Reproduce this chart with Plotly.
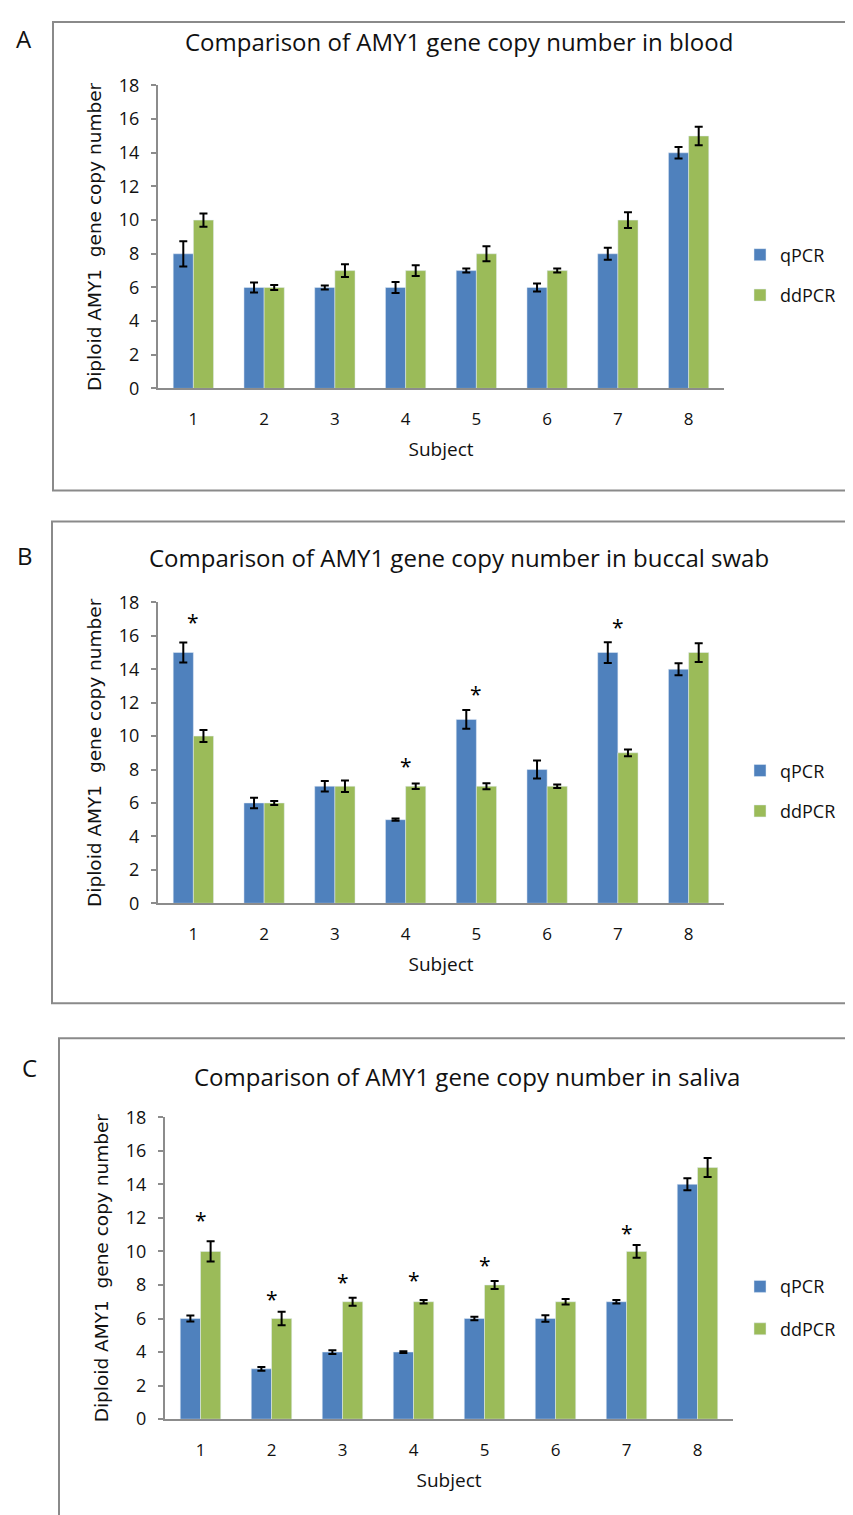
import plotly.graph_objects as go

subjects = ["1", "2", "3", "4", "5", "6", "7", "8"]
series_names = ["qPCR", "ddPCR"]
y_ticks = [0, 2, 4, 6, 8, 10, 12, 14, 16, 18]

# Panel A: blood
blood_qpcr = [8, 6, 6, 6, 7, 6, 8, 14]
blood_qpcr_err = [0.75, 0.3, 0.12, 0.33, 0.12, 0.24, 0.36, 0.34]
blood_ddpcr = [10, 6, 7, 7, 8, 7, 10, 15]
blood_ddpcr_err = [0.4, 0.15, 0.38, 0.32, 0.45, 0.12, 0.47, 0.55]
blood_star_subjects = []
blood_star_y = []

# Panel B: buccal swab
buccal_qpcr = [15, 6, 7, 5, 11, 8, 15, 14]
buccal_qpcr_err = [0.6, 0.32, 0.32, 0.07, 0.56, 0.54, 0.62, 0.36]
buccal_ddpcr = [10, 6, 7, 7, 7, 7, 9, 15]
buccal_ddpcr_err = [0.36, 0.12, 0.34, 0.16, 0.18, 0.1, 0.2, 0.56]
buccal_star_subjects = ["1", "4", "5", "7"]
buccal_star_y = [17.1, 8.5, 12.8, 16.8]

# Panel C: saliva
saliva_qpcr = [6, 3, 4, 4, 6, 6, 7, 14]
saliva_qpcr_err = [0.18, 0.11, 0.11, 0.05, 0.1, 0.2, 0.1, 0.36]
saliva_ddpcr = [10, 6, 7, 7, 8, 7, 10, 15]
saliva_ddpcr_err = [0.6, 0.4, 0.24, 0.11, 0.24, 0.16, 0.38, 0.57]
saliva_star_subjects = ["1", "2", "3", "4", "5", "7"]
saliva_star_y = [12.2, 7.45, 8.45, 8.57, 9.5, 11.4]

titles = [
    "Comparison of AMY1 gene copy number in blood",
    "Comparison of AMY1 gene copy number in buccal swab",
    "Comparison of AMY1 gene copy number in saliva",
]
panel_letters = ["A", "B", "C"]

W, H = 853, 1515
BLUE = "#4F81BD"
GREEN = "#9BBB59"
AXIS_GRAY = "#8C8C8C"
BOX_GRAY = "#8A8A8A"
FONT = "Open Sans"
YFONT = "DejaVu Sans"


def px_x(p):
    # page body margin shifts the figure right by 8 px
    return (p - 8) / W


def px_y(p):
    fy = (p - 20.5) / 0.9844
    fy = max(fy, 1.0)
    return 1 - fy / H


panels = [
    dict(q=blood_qpcr, qe=blood_qpcr_err, d=blood_ddpcr, de=blood_ddpcr_err,
         ss=blood_star_subjects, sy=blood_star_y,
         x0=158, x1=724, ytop=85, ybot=388, box=(53, 7, 880, 490),
         letter=(24, 38), title_y=41, leg_y=236, gap=14),
    dict(q=buccal_qpcr, qe=buccal_qpcr_err, d=buccal_ddpcr, de=buccal_ddpcr_err,
         ss=buccal_star_subjects, sy=buccal_star_y,
         x0=158, x1=724, ytop=602, ybot=903, box=(52, 521, 880, 1003),
         letter=(25, 555), title_y=557, leg_y=752, gap=14),
    dict(q=saliva_qpcr, qe=saliva_qpcr_err, d=saliva_ddpcr, de=saliva_ddpcr_err,
         ss=saliva_star_subjects, sy=saliva_star_y,
         x0=165, x1=733, ytop=1117, ybot=1419, box=(59, 1038, 880, 1560),
         letter=(29, 1067), title_y=1076, leg_y=1268, gap=16),
]

fig = go.Figure()
shapes = []
annotations = []
layout_axes = {}

for i, p in enumerate(panels):
    n = i + 1
    xa = "x" if n == 1 else f"x{n}"
    ya = "y" if n == 1 else f"y{n}"
    leg = "legend" if n == 1 else f"legend{n}"
    fig.add_trace(go.Bar(
        x=subjects, y=p["q"], name=series_names[0], marker_color=BLUE,
        error_y=dict(type="data", array=p["qe"], color="black", thickness=2, width=4),
        xaxis=xa, yaxis=ya, legend=leg, legendgroup=f"q{n}",
    ))
    fig.add_trace(go.Bar(
        x=subjects, y=p["d"], name=series_names[1], marker_color=GREEN,
        error_y=dict(type="data", array=p["de"], color="black", thickness=2, width=4),
        xaxis=xa, yaxis=ya, legend=leg, legendgroup=f"d{n}",
    ))
    for s, sy in zip(p["ss"], p["sy"]):
        # category axes place annotations by category index
        annotations.append(dict(
            x=subjects.index(s), y=sy, xref=xa, yref=ya, text="*", showarrow=False,
            xanchor="center", yanchor="middle", yshift=-5,
            font=dict(family=FONT, size=21, color="black"),
        ))

    xkey = "xaxis" if n == 1 else f"xaxis{n}"
    ykey = "yaxis" if n == 1 else f"yaxis{n}"
    layout_axes[xkey] = dict(
        domain=[px_x(p["x0"]), px_x(p["x1"])], anchor=ya,
        type="category",
        showline=True, linecolor=AXIS_GRAY, linewidth=2,
        ticks="", showgrid=False, zeroline=False,
        tickfont=dict(family=FONT, size=17, color="#111"),
        ticklabelstandoff=14,
        title=dict(text="Subject", font=dict(family=FONT, size=19, color="#111"), standoff=14),
    )
    layout_axes[ykey] = dict(
        domain=[px_y(p["ybot"]), px_y(p["ytop"])], anchor=xa,
        range=[0, 18], tickvals=y_ticks,
        showline=True, linecolor=AXIS_GRAY, linewidth=2,
        ticks="outside", ticklen=5, tickcolor=AXIS_GRAY, tickwidth=1.5,
        showgrid=False, zeroline=False,
        tickfont=dict(family=FONT, size=18, color="#111"),
        ticklabelstandoff=8,
        title=dict(text="Diploid AMY1  gene copy number",
                   font=dict(family=YFONT, size=18.5, color="#111"), standoff=12),
    )
    layout_axes[leg] = dict(
        x=px_x(740), y=px_y(p["leg_y"]), xanchor="left", yanchor="top",
        font=dict(family=FONT, size=18, color="#111"),
        bgcolor="rgba(0,0,0,0)", tracegroupgap=p["gap"], itemwidth=30,
        traceorder="grouped",
    )
    bx0, by0, bx1, by1 = p["box"]
    shapes.append(dict(type="rect", xref="paper", yref="paper",
                       x0=px_x(bx0), x1=px_x(bx1), y0=px_y(by1), y1=px_y(by0),
                       line=dict(color=BOX_GRAY, width=2), fillcolor="rgba(0,0,0,0)"))
    annotations.append(dict(text=titles[i], xref="paper", yref="paper",
                            x=px_x((p["x0"] + p["x1"]) / 2 + 18), y=px_y(p["title_y"]),
                            xanchor="center", yanchor="middle", showarrow=False,
                            font=dict(family=FONT, size=24, color="#111")))
    lx, ly = p["letter"]
    annotations.append(dict(text=panel_letters[i], xref="paper", yref="paper",
                            x=px_x(lx), y=px_y(ly), xanchor="center", yanchor="middle",
                            showarrow=False, font=dict(family=FONT, size=24, color="#111")))

fig.update_layout(
    width=W, height=H,
    margin=dict(l=0, r=0, t=0, b=0),
    paper_bgcolor="white", plot_bgcolor="white",
    barmode="group", bargap=0.43, bargroupgap=0,
    shapes=shapes, annotations=annotations,
    **layout_axes,
)

fig.write_html("out.html")
